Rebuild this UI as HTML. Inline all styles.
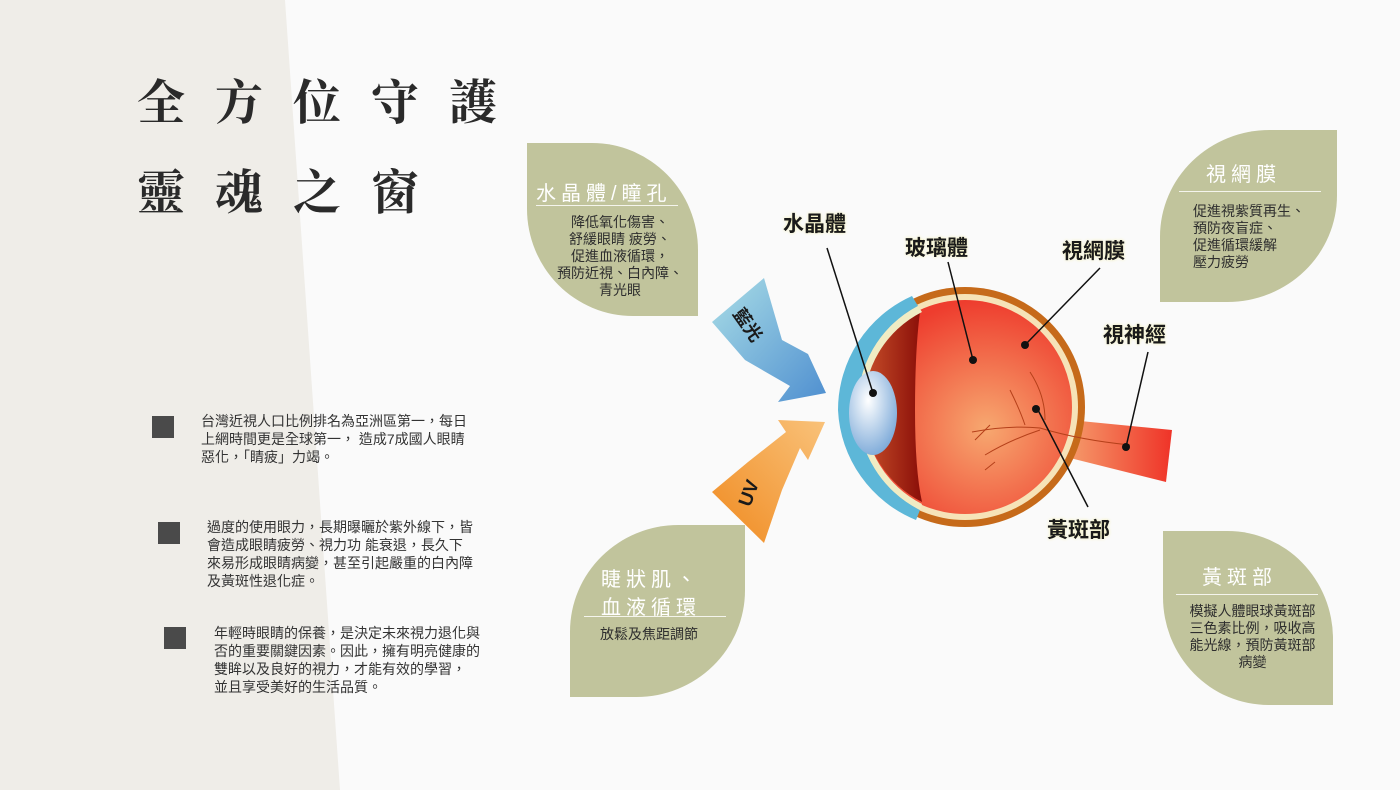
<!DOCTYPE html>
<html><head><meta charset="utf-8"><style>
html,body{margin:0;padding:0;}
body{width:1400px;height:790px;position:relative;overflow:hidden;background:#fafafa;font-family:"Liberation Sans","Noto Sans CJK TC",sans-serif;color:#333;}
.abs{position:absolute;}
.title{font-family:"Liberation Serif","Noto Serif CJK SC",serif;font-size:48px;font-weight:700;color:#2a2a2a;letter-spacing:30px;white-space:nowrap;}
.bul{width:22px;height:22px;background:#4a4a4a;}
.bt{font-size:14px;line-height:18px;color:#333;white-space:nowrap;}
.leaf{background:#c1c49c;position:absolute;}
.lh{color:#fff;font-size:20px;letter-spacing:5px;white-space:nowrap;position:absolute;}
.ll{height:1px;background:#f4f4ec;position:absolute;}
.lt{font-size:14px;line-height:17px;color:#2e2e2e;position:absolute;white-space:nowrap;}
.el{font-weight:bold;font-size:21px;color:#1a1a1a;position:absolute;white-space:nowrap;text-shadow:0 0 3px #f4f0b0;}
</style></head><body>
<svg class="abs" style="left:0;top:0" width="1400" height="790"><polygon points="0,0 285,0 340,790 0,790" fill="#efede8"/></svg>
<div class="abs title" style="left:137px;top:64px">全方位守護</div>
<div class="abs title" style="left:137px;top:154px">靈魂之窗</div>

<div class="abs bul" style="left:152px;top:416px"></div>
<div class="abs bt" style="left:201px;top:412px">台灣近視人口比例排名為亞洲區第一，每日<br>上網時間更是全球第一， 造成7成國人眼睛<br>惡化，「睛疲」力竭。</div>
<div class="abs bul" style="left:158px;top:522px"></div>
<div class="abs bt" style="left:207px;top:518px">過度的使用眼力，長期曝曬於紫外線下，皆<br>會造成眼睛疲勞、視力功 能衰退，長久下<br>來易形成眼睛病變，甚至引起嚴重的白內障<br>及黃斑性退化症。</div>
<div class="abs bul" style="left:164px;top:627px"></div>
<div class="abs bt" style="left:214px;top:624px">年輕時眼睛的保養，是決定未來視力退化與<br>否的重要關鍵因素。因此，擁有明亮健康的<br>雙眸以及良好的視力，才能有效的學習，<br>並且享受美好的生活品質。</div>

<!-- leaves -->
<div class="leaf" style="left:527px;top:143px;width:171px;height:173px;border-radius:0 62% 0 62%"></div>
<div class="lh" style="left:536px;top:177px">水晶體/瞳孔</div>
<div class="ll" style="left:536px;top:205px;width:142px"></div>
<div class="lt" style="left:550px;top:214px;width:140px;text-align:center">降低氧化傷害、<br>舒緩眼睛 疲勞、<br>促進血液循環，<br>預防近視、白內障、<br>青光眼</div>

<div class="leaf" style="left:1160px;top:130px;width:177px;height:172px;border-radius:62% 0 62% 0"></div>
<div class="lh" style="left:1206px;top:158px">視網膜</div>
<div class="ll" style="left:1179px;top:191px;width:142px"></div>
<div class="lt" style="left:1193px;top:203px">促進視紫質再生、<br>預防夜盲症、<br>促進循環緩解<br>壓力疲勞</div>

<div class="leaf" style="left:570px;top:525px;width:175px;height:172px;border-radius:62% 0 62% 0"></div>
<div class="lh" style="left:601px;top:566px;line-height:28px">睫狀肌、<br>血液循環</div>
<div class="ll" style="left:584px;top:616px;width:142px"></div>
<div class="lt" style="left:600px;top:626px">放鬆及焦距調節</div>

<div class="leaf" style="left:1163px;top:531px;width:170px;height:174px;border-radius:0 62% 0 62%"></div>
<div class="lh" style="left:1202px;top:561px">黃斑部</div>
<div class="ll" style="left:1176px;top:594px;width:142px"></div>
<div class="lt" style="left:1180px;top:603px;width:145px;text-align:center">模擬人體眼球黃斑部<br>三色素比例，吸收高<br>能光線，預防黃斑部<br>病變</div>

<!-- eye -->
<svg class="abs" style="left:0;top:0" width="1400" height="790">
<defs>
<linearGradient id="bl" x1="0" y1="0" x2="1" y2="1"><stop offset="0" stop-color="#a9dde6"/><stop offset="1" stop-color="#4f8fd0"/></linearGradient>
<linearGradient id="or" x1="0" y1="1" x2="1" y2="0"><stop offset="0" stop-color="#f08a20"/><stop offset="1" stop-color="#f9c27a"/></linearGradient>
<radialGradient id="rd" cx="0.6" cy="0.6" r="0.6"><stop offset="0" stop-color="#f7a870"/><stop offset="1" stop-color="#ee3d2e"/></radialGradient>
<linearGradient id="nv" x1="0" y1="0" x2="1" y2="0"><stop offset="0" stop-color="#f59a6a"/><stop offset="1" stop-color="#ef3328"/></linearGradient>
<radialGradient id="ln" cx="0.4" cy="0.35" r="0.7"><stop offset="0" stop-color="#ffffff"/><stop offset="1" stop-color="#7aa8d8"/></radialGradient>
<linearGradient id="dk" x1="0" y1="0" x2="1" y2="0"><stop offset="0" stop-color="#c8502a"/><stop offset="1" stop-color="#8a0e08"/></linearGradient>
</defs>
<polygon points="712,322 764,278 782,340 808,354 826,393 778,402 790,386 745,360" fill="url(#bl)"/>
<polygon points="712,492 748,462 786,432 778,420 825,422 808,460 800,448 782,490 764,543" fill="url(#or)"/>
<path d="M1070,420 L1172,430 L1166,482 L1070,458 Z" fill="url(#nv)"/>
<circle cx="965" cy="407" r="120" fill="#c66a1a"/>
<circle cx="965" cy="407" r="113" fill="#f6e3b8"/>
<circle cx="965" cy="407" r="107" fill="url(#rd)"/>
<path d="M920,312 A107,107 0 0,0 922,502 Q915,470 915,410 Q915,350 920,312 Z" fill="url(#dk)"/>
<path d="M838,410 A125,125 0 0,1 912,296 L918,306 A112,112 0 0,0 858,410 A112,112 0 0,0 920,510 L916,520 A125,125 0 0,1 838,410 Z" fill="#5db7d8"/>
<path d="M858,410 A112,112 0 0,1 918,306 L922,312 A106,106 0 0,0 864,410 A106,106 0 0,0 922,504 L920,510 A112,112 0 0,1 858,410 Z" fill="#f0ecc4"/>
<ellipse cx="873" cy="413" rx="24" ry="42" fill="url(#ln)"/>
<g stroke="#b5401a" stroke-width="1" fill="none">
<path d="M972,432 Q1010,425 1040,428 Q1080,440 1130,445"/>
<path d="M985,455 Q1010,440 1040,430"/>
<path d="M1030,372 Q1045,395 1045,420"/>
<path d="M1010,390 Q1020,410 1025,425"/>
<path d="M975,440 L990,425 M995,462 L985,470"/>
</g>
<g stroke="#111" stroke-width="1.5">
<line x1="827" y1="248" x2="873" y2="393"/>
<line x1="948" y1="262" x2="973" y2="360"/>
<line x1="1100" y1="268" x2="1025" y2="345"/>
<line x1="1148" y1="352" x2="1126" y2="447"/>
<line x1="1038" y1="410" x2="1088" y2="507"/>
</g>
<g fill="#111"><circle cx="873" cy="393" r="4"/><circle cx="973" cy="360" r="4"/><circle cx="1025" cy="345" r="4"/><circle cx="1126" cy="447" r="4"/><circle cx="1036" cy="409" r="4"/></g>
<text x="728" y="322" font-size="18" font-weight="bold" fill="#1a1a1a" transform="rotate(55 738 322)" font-family="Liberation Sans,Noto Sans CJK TC,sans-serif">藍光</text>
<text x="735" y="500" font-size="19" font-weight="bold" fill="#1a1a1a" transform="rotate(-70 748 493)" font-family="Liberation Sans,sans-serif">UV</text>
</svg>
<div class="el" style="left:783px;top:208px">水晶體</div>
<div class="el" style="left:905px;top:232px">玻璃體</div>
<div class="el" style="left:1062px;top:235px">視網膜</div>
<div class="el" style="left:1103px;top:319px">視神經</div>
<div class="el" style="left:1047px;top:514px">黃斑部</div>
</body></html>
